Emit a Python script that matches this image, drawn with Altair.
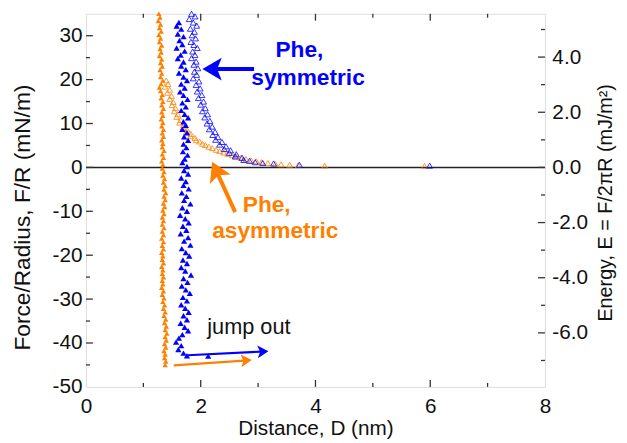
import math
import altair as alt
import pandas as pd

# ---------------- data ----------------
# Phe, symmetric - retraction (filled blue triangles)
blue_ret_D = [1.62, 1.58, 1.66, 1.60, 1.70, 1.63, 1.68, 1.58, 1.72, 1.65, 1.60, 1.70, 1.66, 1.74, 1.62, 1.70,
              1.76, 1.66, 1.72, 1.64, 1.70, 1.77, 1.68, 1.74, 1.66, 1.72, 1.78, 1.70, 1.74, 1.68, 1.76, 1.71,
              1.78, 1.70, 1.75, 1.69, 1.77, 1.72, 1.68, 1.76, 1.71, 1.78, 1.66, 1.74, 1.70, 1.79, 1.67, 1.75,
              1.71, 1.82, 1.68, 1.76, 1.64, 1.73, 1.79, 1.69, 1.75, 1.65, 1.78, 1.71, 1.82, 1.67, 1.74, 1.80,
              1.69, 1.76, 1.66, 1.73, 1.83, 1.70, 1.77, 1.67, 1.74, 1.81, 1.69, 1.76, 1.66, 1.73, 1.79, 1.70,
              1.76, 1.65, 1.72, 1.78, 1.68, 1.62, 1.57, 1.66, 1.61, 1.70, 1.76, 2.13]
blue_ret_F = [33.0, 32.2, 31.5, 30.4, 29.8, 28.9, 28.0, 27.2, 26.5, 25.6, 24.8, 24.0, 23.1, 22.3, 21.5, 20.6,
              19.8, 19.0, 18.1, 17.2, 16.4, 15.5, 14.7, 13.8, 13.0, 12.1, 11.3, 10.4, 9.6, 8.7, 7.9, 7.0,
              6.2, 5.3, 4.5, 3.6, 2.8, 1.9, 1.1, 0.2, -0.7, -1.5, -2.4, -3.2, -4.1, -4.9, -5.8, -6.6,
              -7.5, -8.3, -9.2, -10.0, -10.9, -11.7, -12.6, -13.4, -14.3, -15.1, -16.0, -16.8, -17.7, -18.5, -19.4, -20.2,
              -21.1, -21.9, -22.8, -23.6, -24.5, -25.3, -26.2, -27.0, -27.9, -28.7, -29.6, -30.4, -31.3, -32.1, -33.0, -33.8,
              -34.7, -35.5, -36.4, -37.2, -38.1, -38.9, -39.8, -40.6, -41.5, -42.3, -42.9, -43.0]

# Phe, symmetric - approach (open blue triangles)
blue_app_D = [1.84, 1.90, 1.80, 1.87, 1.93, 1.82, 1.89, 1.85, 1.91, 1.83, 1.88, 1.94, 1.86, 1.90, 1.84, 1.92,
              1.88, 1.95, 1.89, 1.93, 1.87, 1.97, 1.92, 1.99, 1.94, 2.02, 1.96, 2.05, 2.00, 2.08, 2.03, 2.12,
              2.07, 2.16, 2.11, 2.20, 2.15, 2.25, 2.21, 2.30, 2.26, 2.37, 2.33, 2.44, 2.41, 2.52, 2.50, 2.62,
              2.60, 2.72, 2.75, 2.85, 2.95, 3.08, 3.27, 3.72, 5.99]
blue_app_F = [35.0, 34.4, 33.8, 33.0, 32.3, 31.6, 30.9, 30.1, 29.4, 28.6, 27.9, 27.2, 26.4, 25.6, 24.9, 24.1,
              23.4, 22.6, 21.8, 21.1, 20.3, 19.6, 18.8, 18.0, 17.3, 16.5, 15.8, 15.0, 14.3, 13.5, 12.8, 12.1,
              11.4, 10.6, 10.0, 9.3, 8.7, 8.1, 7.4, 6.9, 6.3, 5.8, 5.2, 4.8, 4.2, 3.9, 3.3, 3.0,
              2.5, 2.2, 1.7, 1.5, 1.2, 1.0, 0.9, 0.6, 0.4]

# Phe, asymmetric - retraction (filled orange triangles)
orange_ret_D = [1.27, 1.29, 1.26, 1.30, 1.28, 1.31, 1.27, 1.30, 1.28, 1.32, 1.29, 1.31, 1.28, 1.32, 1.30, 1.33,
                1.29, 1.32, 1.30, 1.34, 1.31, 1.28, 1.30, 1.33, 1.31, 1.34, 1.32, 1.35, 1.32, 1.34, 1.31, 1.34,
                1.32, 1.35, 1.33, 1.35, 1.32, 1.34, 1.33, 1.36, 1.33, 1.35, 1.32, 1.34, 1.33, 1.36, 1.34, 1.37,
                1.35, 1.38, 1.36, 1.39, 1.36, 1.38, 1.35, 1.37, 1.34, 1.36, 1.33, 1.35, 1.33, 1.36, 1.33, 1.35,
                1.32, 1.35, 1.33, 1.35, 1.32, 1.34, 1.33, 1.35, 1.32, 1.34, 1.33, 1.35, 1.33, 1.34, 1.32, 1.35,
                1.33, 1.36, 1.34, 1.37, 1.35, 1.38, 1.36, 1.39, 1.37, 1.40, 1.38, 1.41, 1.38, 1.40, 1.37, 1.39,
                1.36, 1.38, 1.37, 1.39, 1.38]
orange_ret_F = [35.0, 34.2, 33.4, 32.6, 31.8, 31.0, 30.2, 29.4, 28.6, 27.8, 27.0, 26.2, 25.4, 24.6, 23.8, 23.0,
                22.2, 21.4, 20.6, 19.8, 19.0, 18.2, 17.4, 16.6, 15.8, 15.0, 14.2, 13.4, 12.6, 11.8, 11.0, 10.2,
                9.4, 8.6, 7.8, 7.0, 6.2, 5.4, 4.6, 3.8, 3.0, 2.2, 1.4, 0.6, -0.2, -1.0, -1.8, -2.6,
                -3.4, -4.2, -5.0, -5.8, -6.6, -7.4, -8.2, -9.0, -9.8, -10.6, -11.4, -12.2, -13.0, -13.8, -14.6, -15.4,
                -16.2, -17.0, -17.8, -18.6, -19.4, -20.2, -21.0, -21.8, -22.6, -23.4, -24.2, -25.0, -25.8, -26.6, -27.4, -28.2,
                -29.0, -29.8, -30.6, -31.4, -32.2, -33.0, -33.8, -34.6, -35.4, -36.2, -37.0, -37.8, -38.6, -39.4, -40.2, -41.0,
                -41.8, -42.6, -43.4, -44.2, -45.0]

# Phe, asymmetric - approach (open orange triangles)
orange_app_D = [1.40, 1.43, 1.38, 1.46, 1.42, 1.49, 1.46, 1.52, 1.50, 1.56, 1.54, 1.60, 1.58, 1.65, 1.63, 1.70,
                1.69, 1.76, 1.75, 1.83, 1.82, 1.90, 1.92, 1.98, 2.03, 2.08, 2.14, 2.20, 2.27, 2.33, 2.40, 2.47,
                2.55, 2.62, 2.70, 2.79, 2.88, 2.97, 3.06, 3.17, 3.30, 3.40, 3.55, 3.70, 4.16, 5.90]
orange_app_F = [19.8, 19.0, 18.4, 17.7, 17.0, 16.3, 15.6, 14.9, 14.2, 13.5, 12.8, 12.1, 11.5, 10.8, 10.2, 9.6,
                9.1, 8.6, 8.1, 7.6, 7.1, 6.7, 6.2, 5.9, 5.4, 5.1, 4.7, 4.4, 4.0, 3.7, 3.4, 3.1,
                2.8, 2.5, 2.2, 1.9, 1.6, 1.4, 1.2, 1.0, 0.8, 0.7, 0.6, 0.5, 0.4, 0.3]

# annotation arrows: tail -> tip (data coordinates)
arrow_tail_D = [2.93, 2.60, 1.77, 1.53]
arrow_tail_F = [22.4, -10.2, -42.8, -45.1]
arrow_tip_D = [2.03, 2.20, 3.18, 2.89]
arrow_tip_F = [22.4, 1.3, -41.9, -43.9]

# annotation texts
label_texts = ["Phe,", "symmetric", "Phe,", "asymmetric", "jump out"]
label_D = [3.72, 3.87, 3.15, 3.30, 2.84]
label_F = [26.7, 20.4, -8.6, -14.5, -36.4]

# axis ticks
x_labels = [0, 2, 4, 6, 8]
x_ticks_major = [2, 4, 6]
x_ticks_minor = [1, 3, 5, 7]
y_labels = [-50, -40, -30, -20, -10, 0, 10, 20, 30]
y_ticks_major = [-40, -30, -20, -10, 0, 10, 20, 30]
y_ticks_minor = [-45, -35, -25, -15, -5, 5, 15, 25]
e_labels = [-6, -4, -2, 0, 2, 4]
e_ticks_minor = [-7, -5, -3, -1, 1, 3, 5]

# ---------------- styling ----------------
W, H = 465, 378
X_DOMAIN = [0, 8]
Y_DOMAIN = [-50, 35]
E_DOMAIN = [Y_DOMAIN[0] / (2 * math.pi), Y_DOMAIN[1] / (2 * math.pi)]
BLUE = "#0000FF"
ORANGE = "#FF8000"
FRAME = "#333333"
FONT = "Liberation Sans"
TICK_FS = 21
MINUS = "\u2212"

x_scale = alt.Scale(domain=X_DOMAIN, nice=False, zero=False)
y_scale = alt.Scale(domain=Y_DOMAIN, nice=False, zero=False)
e_scale = alt.Scale(domain=E_DOMAIN, nice=False, zero=False)

common = dict(ticks=False, domain=False, grid=False, labelFlush=False, labelOverlap=False,
              labelFontSize=TICK_FS, labelFont=FONT, titleFont=FONT, labelColor="#111",
              titleColor="#111", titleFontWeight="normal", titleAlign="center", titleBaseline="middle")

x_axis = alt.Axis(values=x_labels, title="Distance, D (nm)", labelPadding=9,
                  titleFontSize=21, titleX=W / 2, titleY=42, **common)
y_axis = alt.Axis(values=y_labels, title="Force/Radius, F/R (mN/m)", labelPadding=4,
                  labelExpr="replace(datum.label, '" + MINUS + "', '-')",
                  titleFontSize=23, titleAngle=270, titleX=-64, titleY=206, **common)
e_axis = alt.Axis(values=e_labels, orient="right", title="Energy, E = F/2\u03c0R (mJ/m\u00b2)",
                  labelPadding=7, labelExpr="replace(format(datum.value, '.1f'), '" + MINUS + "', '-')",
                  titleFontSize=20, titleAngle=270, titleX=61, titleY=191, **common)

X = alt.X("D:Q", scale=x_scale, axis=x_axis)
Y = alt.Y("F:Q", scale=y_scale, axis=y_axis)


def pts(D, F, color, filled, size):
    df = pd.DataFrame({"D": D, "F": F})
    if filled:
        m = alt.Chart(df).mark_point(shape="triangle-up", filled=True, color=color, size=size,
                                     opacity=1, strokeWidth=0)
    else:
        m = alt.Chart(df).mark_point(shape="triangle-up", filled=False, color=color, size=size,
                                     opacity=1, strokeWidth=0.8)
    return m.encode(x=X, y=Y)


# zero line
zero = alt.Chart(pd.DataFrame({"F": [0]})).mark_rule(color="#222", strokeWidth=1.5).encode(y=Y)

# arrows
px_per_D = W / (X_DOMAIN[1] - X_DOMAIN[0])
px_per_F = H / (Y_DOMAIN[1] - Y_DOMAIN[0])
HEAD = "M0,0L1,1.7L0,1.3L-1,1.7Z"
arrow_colors = [BLUE, ORANGE, BLUE, ORANGE]
head_sizes = [529, 529, 169, 169]
shaft_widths = [4, 4, 2.2, 2.2]
shafts = []
heads = []
for i in range(len(arrow_tail_D)):
    dx = (arrow_tip_D[i] - arrow_tail_D[i]) * px_per_D
    dy = -(arrow_tip_F[i] - arrow_tail_F[i]) * px_per_F
    L = math.hypot(dx, dy)
    ang = math.degrees(math.atan2(dx, -dy)) % 360
    r = math.sqrt(head_sizes[i]) / 2
    back = 1.2 * r
    endD = arrow_tip_D[i] - dx / L * back / px_per_D
    endF = arrow_tip_F[i] + dy / L * back / px_per_F
    sdf = pd.DataFrame({"D": [arrow_tail_D[i]], "F": [arrow_tail_F[i]], "D2": [endD], "F2": [endF]})
    shafts.append(alt.Chart(sdf).mark_rule(color=arrow_colors[i], strokeWidth=shaft_widths[i]).encode(
        x=X, y=Y, x2="D2:Q", y2="F2:Q"))
    hdf = pd.DataFrame({"D": [arrow_tip_D[i]], "F": [arrow_tip_F[i]], "a": [ang]})
    heads.append(alt.Chart(hdf).mark_point(shape=HEAD, filled=True, color=arrow_colors[i],
                                           size=head_sizes[i], opacity=1, strokeWidth=0).encode(
        x=X, y=Y, angle=alt.Angle("a:Q", scale=None)))

# texts
label_colors = [BLUE, BLUE, ORANGE, ORANGE, "#111111"]
label_weights = ["bold", "bold", "bold", "bold", "normal"]
label_sizes = [23, 23, 23, 23, 22]
texts = []
for i in range(len(label_texts)):
    tdf = pd.DataFrame({"D": [label_D[i]], "F": [label_F[i]], "t": [label_texts[i]]})
    texts.append(alt.Chart(tdf).mark_text(font=FONT, fontSize=label_sizes[i], fontWeight=label_weights[i],
                                          color=label_colors[i], align="center", baseline="middle").encode(
        x=X, y=Y, text="t:N"))


# inward ticks
def xticks(vals, length, top):
    df = pd.DataFrame({"D": vals})
    if top:
        enc = dict(y=alt.value(0), y2=alt.value(length))
    else:
        enc = dict(y=alt.value(H), y2=alt.value(H - length))
    return alt.Chart(df).mark_rule(color=FRAME, strokeWidth=1.3).encode(x=X, **enc)


def yticks(vals, length):
    df = pd.DataFrame({"F": vals})
    return alt.Chart(df).mark_rule(color=FRAME, strokeWidth=1.3).encode(y=Y, x=alt.value(0), x2=alt.value(length))


def eticks(vals, length):
    df = pd.DataFrame({"E": vals})
    return alt.Chart(df).mark_rule(color=FRAME, strokeWidth=1.3).encode(
        y=alt.Y("E:Q", scale=e_scale, axis=e_axis), x=alt.value(W - length), x2=alt.value(W))


left = alt.layer(
    zero,
    xticks(x_ticks_major, 7, False), xticks(x_ticks_minor, 4, False),
    xticks(x_ticks_major, 7, True), xticks(x_ticks_minor, 4, True),
    yticks(y_ticks_major, 7), yticks(y_ticks_minor, 4),
    pts(orange_app_D, orange_app_F, ORANGE, False, 34),
    pts(blue_app_D, blue_app_F, BLUE, False, 36),
    pts(orange_ret_D, orange_ret_F, ORANGE, True, 30),
    pts(blue_ret_D, blue_ret_F, BLUE, True, 40),
    *shafts, *heads, *texts,
)
right = alt.layer(eticks(e_labels, 7), eticks(e_ticks_minor, 4))

chart = alt.layer(left, right).resolve_scale(y="independent").properties(
    width=W, height=H,
    autosize=alt.AutoSizeParams(type="none"),
    padding={"left": 79, "top": 3, "right": 75, "bottom": 54},
).configure_view(stroke=FRAME, strokeWidth=1.5).configure(background="white")

chart.save("out.html", embed_options={"renderer": "svg", "actions": False})
